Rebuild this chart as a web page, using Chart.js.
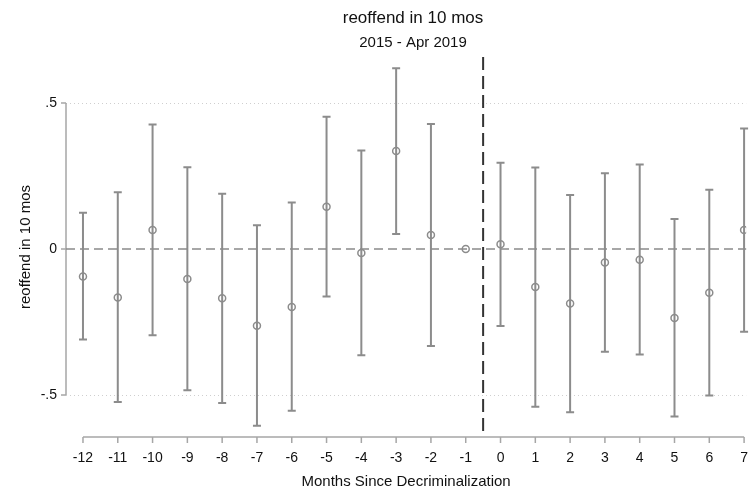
<!DOCTYPE html>
<html>
<head>
<meta charset="utf-8">
<script src="https://cdn.jsdelivr.net/npm/chart.js@4"></script>
<style>
  body { margin: 0; background: #fff; }
</style>
</head>
<body>
<canvas id="chart" width="753" height="494"></canvas>
<script>
// event study: months since decriminalization
const months   = [-12, -11, -10, -9, -8, -7, -6, -5, -4, -3, -2, -1, 0, 1, 2, 3, 4, 5, 6, 7];
const estimate = [-0.094, -0.166, 0.065, -0.103, -0.169, -0.263, -0.199, 0.145, -0.014, 0.336, 0.048, 0, 0.016, -0.130, -0.187, -0.046, -0.037, -0.236, -0.150, 0.065];
const lower    = [-0.310, -0.524, -0.295, -0.484, -0.527, -0.605, -0.554, -0.163, -0.364, 0.051, -0.332, 0, -0.264, -0.540, -0.559, -0.352, -0.361, -0.574, -0.502, -0.283];
const upper    = [0.124, 0.194, 0.426, 0.280, 0.189, 0.081, 0.159, 0.453, 0.337, 0.619, 0.428, 0, 0.295, 0.279, 0.185, 0.259, 0.289, 0.103, 0.203, 0.413];
const yTicks = [-0.5, 0, 0.5];
const eventLine = -0.5;

const FONT = '"Liberation Sans Narrow", "Arial Narrow", "Liberation Sans", sans-serif';
const grey = '#8c8c8c';

// axis lines, gridlines, reference lines and CI bars
const decor = {
  id: 'decor',
  beforeDatasetsDraw(chart) {
    const {ctx, chartArea, scales: {x, y}} = chart;
    ctx.save();
    // dotted gridlines
    ctx.strokeStyle = '#cfcfcf';
    ctx.lineWidth = 1;
    ctx.setLineDash([1, 3]);
    yTicks.forEach(v => {
      if (v === 0) return;
      const py = Math.round(y.getPixelForValue(v)) + 0.5;
      ctx.beginPath(); ctx.moveTo(chartArea.left, py); ctx.lineTo(chartArea.right, py); ctx.stroke();
    });
    ctx.setLineDash([]);
    // y axis
    ctx.strokeStyle = '#a6a6a6';
    ctx.lineWidth = 1.5;
    const ax = chartArea.left;
    ctx.beginPath();
    ctx.moveTo(ax, y.getPixelForValue(yTicks[yTicks.length - 1]));
    ctx.lineTo(ax, y.getPixelForValue(yTicks[0]));
    ctx.stroke();
    yTicks.forEach(v => {
      const py = y.getPixelForValue(v);
      ctx.beginPath(); ctx.moveTo(ax - 5, py); ctx.lineTo(ax, py); ctx.stroke();
    });
    // x axis
    const ay = chartArea.bottom;
    ctx.beginPath();
    ctx.moveTo(x.getPixelForValue(months[0]), ay);
    ctx.lineTo(x.getPixelForValue(months[months.length - 1]), ay);
    ctx.stroke();
    months.forEach(m => {
      const px = x.getPixelForValue(m);
      ctx.beginPath(); ctx.moveTo(px, ay); ctx.lineTo(px, ay + 6); ctx.stroke();
    });
    // zero line
    ctx.strokeStyle = '#8a8a8a';
    ctx.lineWidth = 1.5;
    ctx.setLineDash([9, 5]);
    const zy = y.getPixelForValue(0);
    ctx.beginPath(); ctx.moveTo(chartArea.left, zy); ctx.lineTo(chartArea.right, zy); ctx.stroke();
    // event line
    ctx.strokeStyle = '#333333';
    ctx.lineWidth = 2;
    ctx.setLineDash([13, 6]);
    const ex = x.getPixelForValue(eventLine);
    ctx.beginPath(); ctx.moveTo(ex, chartArea.top); ctx.lineTo(ex, chartArea.bottom); ctx.stroke();
    ctx.setLineDash([]);
    // confidence intervals
    ctx.strokeStyle = grey;
    ctx.lineWidth = 2;
    months.forEach((m, i) => {
      if (lower[i] === upper[i]) return;
      const px = x.getPixelForValue(m);
      const top = y.getPixelForValue(upper[i]);
      const bot = y.getPixelForValue(lower[i]);
      ctx.beginPath();
      ctx.moveTo(px, top); ctx.lineTo(px, bot);
      ctx.moveTo(px - 4, top); ctx.lineTo(px + 4, top);
      ctx.moveTo(px - 4, bot); ctx.lineTo(px + 4, bot);
      ctx.stroke();
    });
    ctx.restore();
  },
  afterDraw(chart) {
    const {ctx} = chart;
    ctx.save();
    ctx.fillStyle = '#111';
    ctx.textAlign = 'center';
    ctx.textBaseline = 'middle';
    ctx.font = '17px ' + FONT;
    ctx.fillText('reoffend in 10 mos', 413, 18);
    ctx.font = '15px ' + FONT;
    ctx.fillText('2015 - Apr 2019', 413, 43);
    ctx.restore();
  }
};

new Chart(document.getElementById('chart'), {
  type: 'scatter',
  data: {
    datasets: [{
      data: months.map((m, i) => ({x: m, y: estimate[i]})),
      pointStyle: 'circle',
      pointRadius: 3.5,
      pointBorderWidth: 1.5,
      pointBorderColor: grey,
      pointBackgroundColor: 'rgba(0,0,0,0)'
    }]
  },
  options: {
    responsive: false,
    animation: false,
    layout: {padding: {top: 57, right: 0, left: 0, bottom: 0}},
    plugins: {legend: {display: false}, tooltip: {enabled: false}},
    scales: {
      x: {
        type: 'linear',
        min: -12.488,
        max: 7.06,
        afterBuildTicks: s => { s.ticks = months.map(v => ({value: v})); },
        afterFit: s => { s.height = 494 - 437; },
        grid: {display: false},
        border: {display: false},
        ticks: {color: '#111', font: {family: FONT, size: 14}, padding: 5, maxRotation: 0, autoSkip: false},
        title: {display: true, text: 'Months Since Decriminalization', color: '#111', font: {family: FONT, size: 15}, padding: {top: 0, bottom: 3}}
      },
      y: {
        min: -0.6438,
        max: 0.6575,
        afterBuildTicks: s => { s.ticks = yTicks.map(v => ({value: v})); },
        afterFit: s => { s.width = 66; },
        grid: {display: false},
        border: {display: false},
        ticks: {
          color: '#111', font: {family: FONT, size: 14}, padding: 1,
          callback: v => v === 0 ? '0' : String(v).replace('0.', '.')
        },
        title: {display: true, text: 'reoffend in 10 mos', color: '#111', font: {family: FONT, size: 15}, padding: {top: 17, bottom: 0}}
      }
    }
  },
  plugins: [decor]
});
</script>
</body>
</html>
